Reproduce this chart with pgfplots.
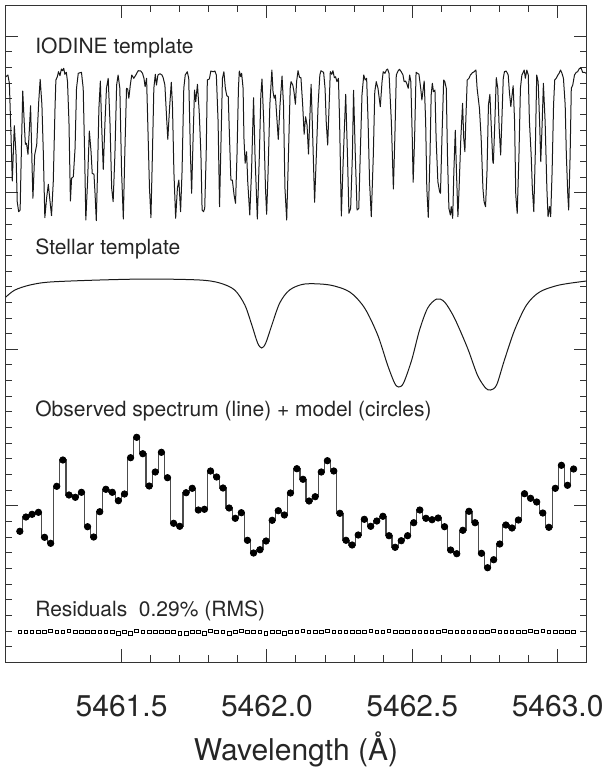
\documentclass[border=0pt]{standalone}
\usepackage{fontspec}
\setmainfont{TeX Gyre Heros}
\usepackage{pgfplots}
\pgfplotsset{compat=1.18}
\begin{document}
\begin{tikzpicture}[panel/.style={anchor=base west, inner sep=0pt, font=\fontsize{10.5}{13}\selectfont, text=black!85}]
\begin{axis}[
  at={(2.65pt,-2.5pt)}, anchor=north west,
  width=290.7pt, height=328.65pt, scale only axis,
  xmin=5461.1, xmax=5463.1, ymin=0, ymax=657.3,
  xtick={5461.5,5462,5462.5,5463}, minor x tick num=4,
  ytick={0,156.5,313,469.5,626}, minor y tick num=9, yticklabels={},
  tick align=inside, xtick pos=both, ytick pos=both,
  major tick length=6.5pt, minor tick length=3.5pt,
  axis line style={draw=black!80, line width=0.5pt},
  every tick/.style={black!80, line width=0.5pt},
  /pgf/number format/assume math mode=true,
  xticklabel style={font=\fontsize{15}{18}\selectfont, text=black!85, anchor=base, yshift=-27.3pt,
    /pgf/number format/.cd, fixed, fixed zerofill, precision=1, 1000 sep={}, /tikz/.cd},
  xlabel={Wavelength (Å)},
  xlabel style={font=\fontsize{15}{18}\selectfont, text=black!85, at={(axis description cs:0.5,0)}, anchor=base, yshift=-49pt},
]
% IODINE template
\addplot[black!90, line width=0.5pt, line join=round] coordinates {
(5461.102,585.6)(5461.109,587.3)(5461.114,579)(5461.120,524)(5461.124,481.3)(5461.131,536.6)(5461.137,507.3)(5461.141,460.6)(5461.146,450.6)(5461.151,452.3)(5461.155,507.3)(5461.160,571.3)(5461.165,540.6)(5461.169,518)(5461.173,519)(5461.178,508)(5461.183,534)(5461.187,556.6)(5461.192,497.3)(5461.195,464)(5461.201,507.3)(5461.208,517.3)(5461.215,560.6)(5461.220,583)(5461.226,557.3)(5461.231,507.3)(5461.236,444.6)(5461.242,464)(5461.248,478)(5461.254,460.6)(5461.259,446.6)(5461.265,480.6)(5461.271,554)(5461.274,582.3)(5461.279,585.6)(5461.283,590.6)(5461.288,586.6)(5461.293,593.3)(5461.297,591.6)(5461.301,594)(5461.305,588)(5461.310,590)(5461.314,580.6)(5461.319,540.6)(5461.324,461.3)(5461.328,484)(5461.334,485.6)(5461.340,514)(5461.345,574)(5461.351,589)(5461.362,590)(5461.368,574)(5461.373,507.3)(5461.377,442.3)(5461.383,480.6)(5461.389,531.3)(5461.395,510.6)(5461.399,489)(5461.405,488)(5461.409,467.3)(5461.413,441.6)(5461.417,487.3)(5461.422,554)(5461.427,581.3)(5461.431,540.6)(5461.437,493)(5461.443,540.6)(5461.448,574)(5461.454,584)(5461.460,540.6)(5461.466,474)(5461.471,460.6)(5461.477,507.3)(5461.483,577.3)(5461.488,587.3)(5461.494,574)(5461.500,490.6)(5461.506,443.3)(5461.511,507.3)(5461.517,574)(5461.521,573.3)(5461.525,564)(5461.530,577.3)(5461.535,587.3)(5461.542,584)(5461.549,587.3)(5461.557,591.6)(5461.566,591.3)(5461.572,589)(5461.577,584)(5461.581,575.6)(5461.586,584)(5461.590,540.6)(5461.596,474)(5461.601,444.6)(5461.606,507.3)(5461.611,574)(5461.616,588)(5461.620,577.3)(5461.625,587.3)(5461.632,588.6)(5461.639,587.3)(5461.643,584.6)(5461.649,577.3)(5461.655,544)(5461.659,523)(5461.665,554)(5461.671,580)(5461.675,557.3)(5461.680,490.6)(5461.686,444)(5461.692,474)(5461.697,482.3)(5461.703,450.6)(5461.708,490.6)(5461.714,574)(5461.719,587.3)(5461.726,590.6)(5461.731,584)(5461.737,507.3)(5461.741,469)(5461.746,524)(5461.751,572.3)
(5461.755,560.6)(5461.761,578)(5461.767,550.6)(5461.773,507.3)(5461.777,452.3)(5461.782,450.6)(5461.786,454)(5461.791,507.3)(5461.795,582.3)(5461.802,583.3)(5461.807,591.3)(5461.815,590.6)(5461.821,591.3)(5461.826,587.3)(5461.832,540.6)(5461.837,455.6)(5461.841,507.3)(5461.847,584)(5461.852,590.6)(5461.857,574)(5461.862,566.6)(5461.867,565.6)(5461.871,527.3)(5461.876,482.3)(5461.881,482.3)(5461.887,467.3)(5461.892,459)(5461.897,507.3)(5461.902,574)(5461.905,591.3)(5461.910,585.6)(5461.913,589)(5461.918,574)(5461.921,524)(5461.925,499)(5461.930,510.6)(5461.934,480.6)(5461.941,447.3)(5461.947,490.6)(5461.954,564.6)(5461.959,507.3)(5461.967,443.3)(5461.974,507.3)(5461.979,567.3)(5461.983,583.3)(5461.989,540.6)(5461.995,474)(5461.999,448)(5462.004,490.6)(5462.010,557.3)(5462.017,592.3)(5462.021,570.6)(5462.025,564)(5462.029,567.3)(5462.035,540.6)(5462.039,523)(5462.045,557.3)(5462.052,586.3)(5462.057,557.3)(5462.062,474)(5462.068,442.3)(5462.074,507.3)(5462.080,574)(5462.083,580.6)(5462.089,577.3)(5462.093,570.6)(5462.098,558)(5462.102,580.6)(5462.107,591.6)(5462.112,585)(5462.117,584.6)(5462.123,557.3)(5462.128,528)(5462.133,545.6)(5462.138,537.3)(5462.143,508.3)(5462.147,540.6)(5462.152,578)(5462.156,540.6)(5462.161,490.6)(5462.164,460)(5462.170,507.3)(5462.176,557.3)(5462.182,587.3)(5462.186,591.6)(5462.191,590.6)(5462.195,590)(5462.200,574)(5462.204,540.6)(5462.209,517.3)(5462.214,557.3)(5462.218,590.6)(5462.223,588)(5462.227,591.6)(5462.232,584.6)(5462.236,585.6)(5462.241,580.6)(5462.246,584)(5462.250,540.6)(5462.256,446.3)(5462.263,507.3)(5462.271,568)(5462.277,507.3)(5462.282,449)(5462.288,454)(5462.294,507.3)(5462.298,572)(5462.304,507.3)(5462.310,452.3)(5462.316,454)(5462.321,507.3)(5462.327,567.3)(5462.333,587.3)(5462.338,582.3)(5462.343,584)(5462.348,540.6)(5462.353,480.6)(5462.359,445.6)(5462.366,507.3)(5462.371,570.6)(5462.376,580.6)(5462.382,574)(5462.390,555.6)(5462.396,580.6)(5462.400,590.6)(5462.406,589)(5462.411,592.3)(5462.415,593.3)(5462.420,589)
(5462.428,540.6)(5462.435,473.3)(5462.440,524)(5462.445,587.3)(5462.451,591.3)(5462.456,593)(5462.462,590.6)(5462.468,587.3)(5462.472,580.6)(5462.477,581.3)(5462.482,578)(5462.486,574)(5462.491,587.3)(5462.495,580.6)(5462.500,524)(5462.503,480)(5462.508,524)(5462.513,590)(5462.518,589)(5462.523,588)(5462.529,574)(5462.533,562.3)(5462.538,574)(5462.541,581.3)(5462.546,540.6)(5462.550,474)(5462.555,445)(5462.561,507.3)(5462.565,567.3)(5462.569,579)(5462.573,570.6)(5462.578,572.3)(5462.582,524)(5462.588,480.6)(5462.594,470.6)(5462.597,469)(5462.602,524)(5462.608,582.3)(5462.612,580.6)(5462.617,574)(5462.621,507.3)(5462.626,454)(5462.631,447.3)(5462.634,455.6)(5462.639,444)(5462.643,490.6)(5462.648,532)(5462.652,490.6)(5462.657,445.6)(5462.661,474)(5462.667,524)(5462.673,559)(5462.677,524)(5462.681,510.6)(5462.684,540.6)(5462.689,582.3)(5462.695,584)(5462.700,587.3)(5462.707,589.6)(5462.713,590.6)(5462.719,592.3)(5462.723,574)(5462.731,554)(5462.737,524)(5462.743,474)(5462.747,460.6)(5462.752,455.6)(5462.757,490.6)(5462.762,557.3)(5462.767,568)(5462.771,540.6)(5462.777,500.6)(5462.779,499)(5462.784,540.6)(5462.789,584.6)(5462.794,574)(5462.799,534)(5462.804,507.3)(5462.808,540.6)(5462.813,584)(5462.817,590.6)(5462.823,591.3)(5462.830,587.3)(5462.834,570.6)(5462.839,555.6)(5462.842,564)(5462.847,576.6)(5462.852,540.6)(5462.856,467.3)(5462.861,449)(5462.867,507.3)(5462.872,574)(5462.877,587.3)(5462.880,589)(5462.885,592.3)(5462.889,584)(5462.894,592.3)(5462.899,587.3)(5462.903,540.6)(5462.909,507.3)(5462.913,474)(5462.918,450.6)(5462.923,507.3)(5462.928,587.3)(5462.933,580.6)(5462.938,540.6)(5462.942,500.6)(5462.947,540.6)(5462.951,579)(5462.957,540.6)(5462.963,474)(5462.967,445.6)(5462.972,455.6)(5462.976,445.6)(5462.981,490.6)(5462.986,557.3)(5462.990,582.3)(5462.995,584)(5463.001,587.3)(5463.005,589)(5463.010,592.3)(5463.015,589)(5463.020,584)(5463.026,557.3)(5463.030,507.3)(5463.035,467.3)(5463.038,452.3)(5463.043,507.3)(5463.047,574)(5463.052,577.3)(5463.058,587.3)(5463.064,590)(5463.069,590.6)(5463.075,594)(5463.081,594)(5463.086,590)(5463.092,590)(5463.098,589)
};
% Stellar template
\addplot[black!90, line width=0.5pt, smooth, tension=0.5] coordinates {
(5461.102,365.3)(5461.133,372.3)(5461.185,377.3)(5461.254,380.3)(5461.425,382.3)(5461.597,383.3)(5461.769,382.3)(5461.838,379.3)(5461.889,372.3)(5461.924,357.3)(5461.948,337.3)(5461.968,319.3)(5461.982,314.3)(5461.996,319.3)(5462.017,337.3)(5462.044,359.3)(5462.078,372.3)(5462.130,378.3)(5462.216,377.3)(5462.285,370.3)(5462.336,354.3)(5462.381,327.3)(5462.415,297.3)(5462.439,279.3)(5462.453,275.3)(5462.470,279.3)(5462.498,302.3)(5462.525,332.3)(5462.553,354.3)(5462.584,363.3)(5462.611,360.3)(5462.645,344.3)(5462.690,314.3)(5462.724,287.3)(5462.752,274.3)(5462.769,272.3)(5462.790,277.3)(5462.817,302.3)(5462.852,332.3)(5462.893,357.3)(5462.938,370.3)(5463.006,377.3)(5463.100,381.3)
};
% Observed spectrum (line)
\addplot[black!70, line width=0.6pt, const plot mark mid] table {
x y
5461.150 131
5461.171 145.3
5461.192 148
5461.214 150
5461.235 125
5461.256 119
5461.277 176
5461.298 202.3
5461.319 167.3
5461.341 165
5461.362 170
5461.383 135.6
5461.404 125.3
5461.425 150.6
5461.446 173
5461.468 170
5461.489 161.6
5461.510 168.3
5461.531 204.6
5461.552 225
5461.573 208.6
5461.595 176.3
5461.616 190.3
5461.637 210
5461.658 184.6
5461.679 139
5461.700 136
5461.722 169.6
5461.743 174
5461.764 152.3
5461.785 153
5461.806 191.3
5461.827 185.3
5461.849 174.3
5461.870 154.3
5461.891 144
5461.912 149.6
5461.933 122
5461.954 109.3
5461.976 112.6
5461.997 121.3
5462.018 142
5462.039 151.6
5462.060 147.3
5462.081 169.3
5462.103 193.6
5462.124 183
5462.145 161.3
5462.166 165.6
5462.187 190.3
5462.208 201.6
5462.230 191.3
5462.251 149
5462.272 122
5462.293 117.3
5462.314 127.3
5462.335 143
5462.357 136
5462.378 141.3
5462.399 146
5462.420 126.6
5462.441 115
5462.462 121.6
5462.484 126.6
5462.505 139.6
5462.526 152.3
5462.547 144
5462.568 142.6
5462.589 144.3
5462.611 135.6
5462.632 112.3
5462.653 108.6
5462.674 132
5462.695 151
5462.716 139.6
5462.738 109
5462.759 94.6
5462.780 102.6
5462.801 118.3
5462.822 137.3
5462.843 134.3
5462.865 142.3
5462.886 168.6
5462.907 164
5462.928 160.3
5462.949 149.3
5462.970 135
5462.992 174
5463.013 197
5463.034 177
5463.055 193.3
};
% model (circles)
\addplot[only marks, mark=*, mark size=1.6pt, black] table {
x y
5461.150 131
5461.171 145.3
5461.192 148
5461.214 150
5461.235 125
5461.256 119
5461.277 176
5461.298 202.3
5461.319 167.3
5461.341 165
5461.362 170
5461.383 135.6
5461.404 125.3
5461.425 150.6
5461.446 173
5461.468 170
5461.489 161.6
5461.510 168.3
5461.531 204.6
5461.552 225
5461.573 208.6
5461.595 176.3
5461.616 190.3
5461.637 210
5461.658 184.6
5461.679 139
5461.700 136
5461.722 169.6
5461.743 174
5461.764 152.3
5461.785 153
5461.806 191.3
5461.827 185.3
5461.849 174.3
5461.870 154.3
5461.891 144
5461.912 149.6
5461.933 122
5461.954 109.3
5461.976 112.6
5461.997 121.3
5462.018 142
5462.039 151.6
5462.060 147.3
5462.081 169.3
5462.103 193.6
5462.124 183
5462.145 161.3
5462.166 165.6
5462.187 190.3
5462.208 201.6
5462.230 191.3
5462.251 149
5462.272 122
5462.293 117.3
5462.314 127.3
5462.335 143
5462.357 136
5462.378 141.3
5462.399 146
5462.420 126.6
5462.441 115
5462.462 121.6
5462.484 126.6
5462.505 139.6
5462.526 152.3
5462.547 144
5462.568 142.6
5462.589 144.3
5462.611 135.6
5462.632 112.3
5462.653 108.6
5462.674 132
5462.695 151
5462.716 139.6
5462.738 109
5462.759 94.6
5462.780 102.6
5462.801 118.3
5462.822 137.3
5462.843 134.3
5462.865 142.3
5462.886 168.6
5462.907 164
5462.928 160.3
5462.949 149.3
5462.970 135
5462.992 174
5463.013 197
5463.034 177
5463.055 193.3
};
% Residuals
\addplot[only marks, mark=square, mark size=0.9pt, black, mark options={line width=0.4pt}] table {
x y
5461.150 30.3
5461.171 30.3
5461.192 30.3
5461.214 30.3
5461.235 30.3
5461.256 31.5
5461.277 30.3
5461.298 30.3
5461.319 31.5
5461.341 30.3
5461.362 30.3
5461.383 30.3
5461.404 30.3
5461.425 30.3
5461.446 30.3
5461.468 30.3
5461.489 29.0
5461.510 30.3
5461.531 29.0
5461.552 31.5
5461.573 30.3
5461.595 30.3
5461.616 30.3
5461.637 30.3
5461.658 30.3
5461.679 30.3
5461.700 29.0
5461.722 29.0
5461.743 30.3
5461.764 30.3
5461.785 29.0
5461.806 31.5
5461.827 30.3
5461.849 30.3
5461.870 29.0
5461.891 30.3
5461.912 31.5
5461.933 30.3
5461.954 30.3
5461.976 30.3
5461.997 29.0
5462.018 30.3
5462.039 30.3
5462.060 29.0
5462.081 30.3
5462.103 30.3
5462.124 31.5
5462.145 30.3
5462.166 30.3
5462.187 30.3
5462.208 31.5
5462.230 30.3
5462.251 30.3
5462.272 30.3
5462.293 30.3
5462.314 30.3
5462.335 30.3
5462.357 31.5
5462.378 30.3
5462.399 30.3
5462.420 31.5
5462.441 30.3
5462.462 30.3
5462.484 30.3
5462.505 30.3
5462.526 30.3
5462.547 30.3
5462.568 30.3
5462.589 30.3
5462.611 31.5
5462.632 30.3
5462.653 30.3
5462.674 30.3
5462.695 30.3
5462.716 30.3
5462.738 30.3
5462.759 30.3
5462.780 31.5
5462.801 30.3
5462.822 30.3
5462.843 30.3
5462.865 30.3
5462.886 30.3
5462.907 31.5
5462.928 30.3
5462.949 31.5
5462.970 30.3
5462.992 30.3
5463.013 30.3
5463.034 30.3
5463.055 30.3
};
\node[panel] at (axis cs:5461.202,609.3) {IODINE template};
\node[panel] at (axis cs:5461.202,408.3) {Stellar template};
\node[panel] at (axis cs:5461.202,245.6) {Observed spectrum (line) + model (circles)};
\node[panel] at (axis cs:5461.202,45.8) {Residuals\ \ 0.29\% (RMS)};
\end{axis}
\pgfresetboundingbox
\useasboundingbox (0,0) rectangle (303pt,-385.5pt);
\end{tikzpicture}
\end{document}
